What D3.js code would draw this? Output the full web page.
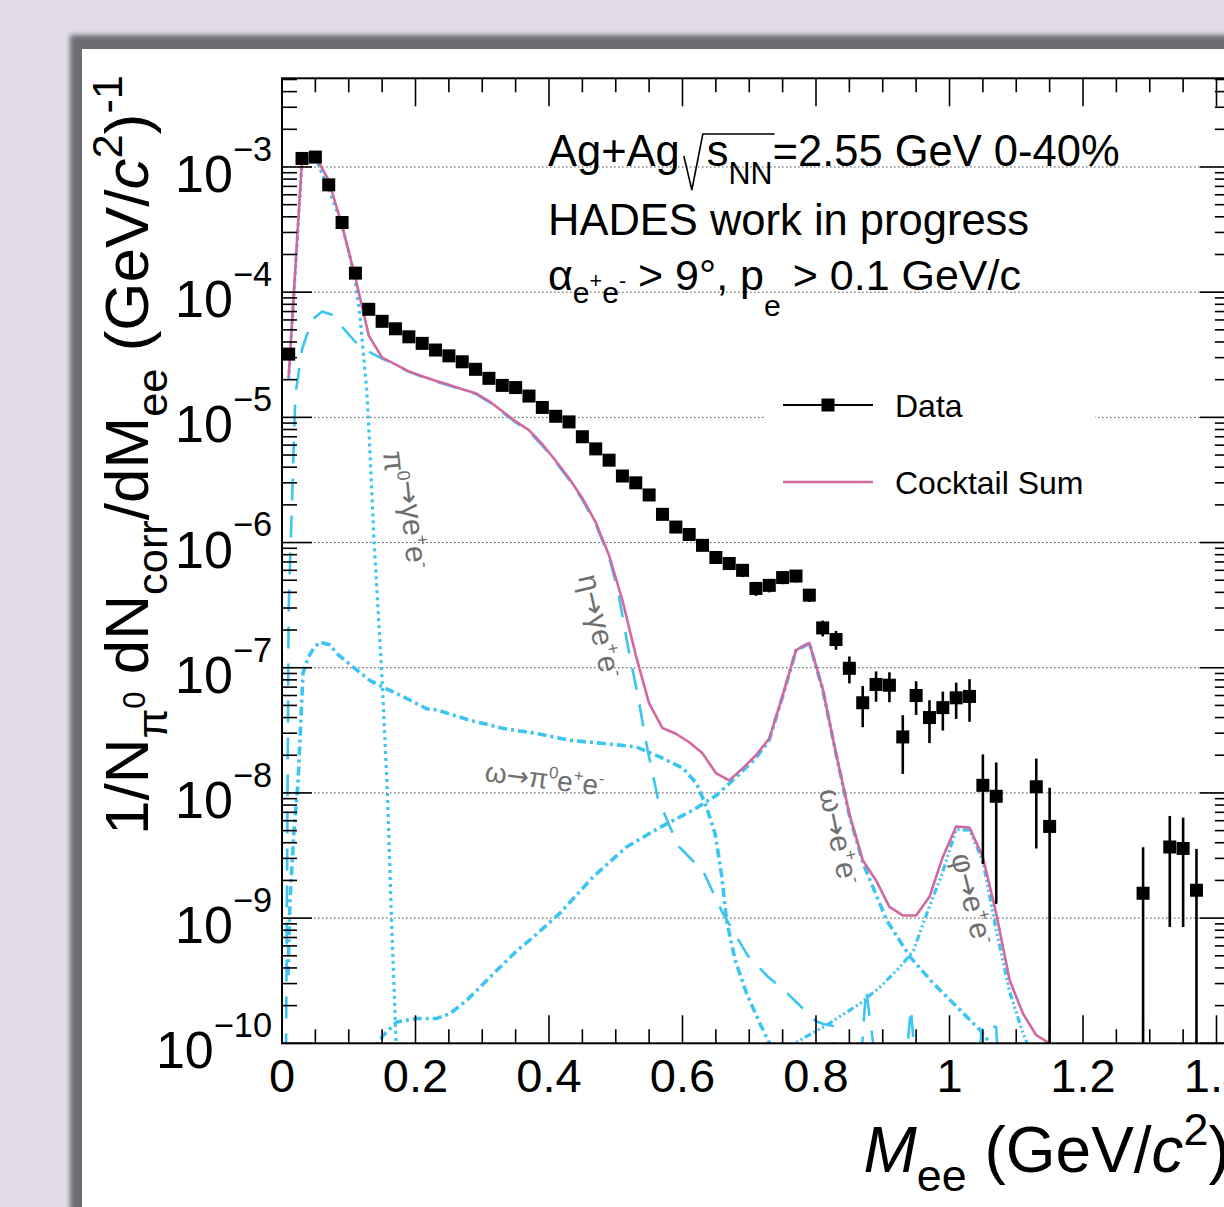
<!DOCTYPE html>
<html>
<head>
<meta charset="utf-8">
<script src="https://cdn.jsdelivr.net/npm/d3@7/dist/d3.min.js"></script>
<style>
  html, body { margin: 0; padding: 0; background: #e1dce8; }
  svg { display: block; }
  text { font-family: "Liberation Sans", Arial, Helvetica, sans-serif; }
</style>
</head>
<body>
<svg id="chart" width="1224" height="1207"></svg>
<script>
// ---------- measured dielectron yield (bin centres in GeV/c^2) ----------
const dataMass = [0.01,0.03,0.05,0.07,0.09,0.11,0.13,0.15,0.17,0.19,0.21,0.23,0.25,0.27,0.29,0.31,0.33,0.35,0.37,0.39,
  0.41,0.43,0.45,0.47,0.49,0.51,0.53,0.55,0.57,0.59,0.61,0.63,0.65,0.67,0.69,0.71,0.73,0.75,0.77,0.79,
  0.81,0.83,0.85,0.87,0.89,0.91,0.93,0.95,0.97,0.99,1.01,1.03,1.05,1.07,1.13,1.15,1.29,1.33,1.35,1.37];
const dataYield = [3.2e-5,1.17e-3,1.2e-3,7.2e-4,3.6e-4,1.42e-4,7.3e-5,5.85e-5,5.1e-5,4.4e-5,3.9e-5,3.45e-5,3.1e-5,2.78e-5,2.42e-5,2.05e-5,1.8e-5,1.73e-5,1.48e-5,1.2e-5,
  1.02e-5,9.2e-6,7.0e-6,5.6e-6,4.55e-6,3.4e-6,3.0e-6,2.4e-6,1.68e-6,1.33e-6,1.16e-6,9.5e-7,7.6e-7,6.8e-7,6.0e-7,4.3e-7,4.55e-7,5.25e-7,5.4e-7,3.8e-7,
  2.08e-7,1.68e-7,9.9e-8,5.25e-8,7.35e-8,7.25e-8,2.8e-8,6.0e-8,4.0e-8,4.8e-8,5.75e-8,5.9e-8,1.15e-8,9.4e-9,1.12e-8,5.4e-9,1.58e-9,3.7e-9,3.6e-9,1.67e-9];
const dataErr = [8e-7,1.2e-5,1.2e-5,8e-6,4.5e-6,2.2e-6,1.3e-6,1.1e-6,1.0e-6,9e-7,8e-7,7.5e-7,7e-7,6.5e-7,6e-7,5.5e-7,5e-7,5e-7,4.5e-7,4e-7,
  3.6e-7,3.3e-7,2.9e-7,2.6e-7,2.3e-7,2e-7,1.8e-7,1.6e-7,1.3e-7,1.1e-7,1.0e-7,9e-8,8e-8,7.5e-8,7e-8,5.5e-8,5.5e-8,6e-8,6e-8,4.5e-8,
  3e-8,2.9e-8,2.4e-8,1.9e-8,2e-8,1.95e-8,1.38e-8,1.8e-8,1.5e-8,1.65e-8,1.85e-8,2.2e-8,8.8e-9,8.1e-9,7.6e-9,5.6e-9,2.1e-9,2.85e-9,2.75e-9,1.9e-9];

// ---------- cocktail ----------
const sumMass = [0.01,0.03,0.05,0.07,0.09,0.11,0.13,0.15,0.17,0.19,0.21,0.23,0.25,0.27,0.29,0.31,0.33,0.35,0.37,0.39,
  0.41,0.43,0.45,0.47,0.49,0.51,0.53,0.55,0.57,0.59,0.61,0.63,0.65,0.67,0.69,0.71,0.73,0.75,0.77,0.79,
  0.81,0.83,0.85,0.87,0.89,0.91,0.93,0.95,0.97,0.99,1.01,1.03,1.05,1.07,1.09,1.11,1.13,1.15,1.17];
const sumYield = [2.1e-5,1.14e-3,1.22e-3,7.8e-4,3.4e-4,1.3e-4,4.5e-5,3.0e-5,2.65e-5,2.33e-5,2.13e-5,1.96e-5,1.82e-5,1.68e-5,1.56e-5,1.35e-5,1.12e-5,9.3e-6,7.9e-6,6.1e-6,
  4.5e-6,3.26e-6,2.26e-6,1.45e-6,7.9e-7,3.46e-7,1.26e-7,5.2e-8,3.3e-8,2.97e-8,2.54e-8,2.07e-8,1.44e-8,1.26e-8,1.57e-8,2.0e-8,2.72e-8,6.0e-8,1.38e-7,1.58e-7,
  6.8e-8,2.07e-8,6.8e-9,2.9e-9,2.0e-9,1.23e-9,1.05e-9,1.05e-9,1.48e-9,3.08e-9,5.4e-9,5.3e-9,3.08e-9,1.09e-9,3.2e-10,1.73e-10,1.16e-10,1.0e-10,8e-11];

const pi0Mass = [0.01,0.03,0.05,0.069,0.089,0.102,0.112,0.117,0.121,0.127,0.130,0.138,0.149,0.158,0.164,0.171,0.176];
const pi0Yield = [2.0e-5,1.1e-3,1.18e-3,6.9e-4,3.55e-4,1.91e-4,1.04e-4,6.3e-5,3.65e-5,1.64e-5,8.4e-6,1.0e-6,1.0e-7,1.0e-8,1.0e-9,1.0e-10,5e-11];

const etaMass = [0.006,0.01,0.02,0.03,0.045,0.06,0.075,0.09,0.11,0.13,0.15,0.17,0.19,0.21,0.23,0.25,0.27,0.29,0.31,0.33,
  0.35,0.37,0.39,0.41,0.43,0.45,0.47,0.49,0.503,0.518,0.533,0.547,0.563,0.593,0.631,0.66,0.698,0.728,0.754,0.80,
  0.812,0.825,0.828,0.868,0.875,0.888,0.936,0.942,0.948,1.046,1.048,1.07,1.072];
const etaYield = [8e-11,3e-7,1.5e-5,3.5e-5,6.0e-5,7.0e-5,6.6e-5,5.3e-5,4.0e-5,3.35e-5,2.95e-5,2.63e-5,2.31e-5,2.11e-5,1.94e-5,1.8e-5,1.66e-5,1.54e-5,1.33e-5,1.1e-5,
  9.1e-6,7.7e-6,5.95e-6,4.4e-6,3.18e-6,2.2e-6,1.4e-6,7.6e-7,4.2e-7,1.5e-7,6.0e-8,2.3e-8,9.1e-9,3.8e-9,2.37e-9,1.1e-9,5e-10,3.4e-10,2.6e-10,1.5e-10,
  1.42e-10,1.38e-10,8e-11,8e-11,2.7e-10,8e-11,8e-11,1.9e-10,8e-11,8e-11,1.4e-10,1.35e-10,8e-11];

const omegaDalMass = [0.009,0.012,0.018,0.024,0.0315,0.039,0.048,0.057,0.072,0.082,0.112,0.132,0.151,0.182,0.217,0.232,0.282,0.332,0.382,0.432,
  0.482,0.531,0.566,0.601,0.621,0.636,0.649,0.659,0.666,0.679,0.696,0.716,0.728,0.74];
const omegaDalYield = [3.5e-10,1.4e-9,5e-9,1.2e-8,9.1e-8,1.2e-7,1.45e-7,1.6e-7,1.52e-7,1.3e-7,9.6e-8,7.9e-8,7.0e-8,5.85e-8,4.7e-8,4.6e-8,3.8e-8,3.27e-8,2.98e-8,2.63e-8,
  2.48e-8,2.33e-8,1.94e-8,1.57e-8,1.19e-8,7.7e-9,4.7e-9,2.13e-9,9.6e-10,4.6e-10,2.5e-10,1.44e-10,1.06e-10,8e-11];

const omegaMass = [0.13,0.152,0.172,0.202,0.232,0.252,0.277,0.302,0.327,0.352,0.377,0.416,0.466,0.516,0.566,0.616,0.651,0.671,0.69,0.71,
  0.73,0.75,0.77,0.79,0.81,0.83,0.85,0.871,0.906,0.941,0.976,1.016,1.046,1.061,1.08];
const omegaYield = [8e-11,1.16e-10,1.48e-10,1.58e-10,1.58e-10,1.73e-10,2.21e-10,3.0e-10,4.07e-10,5.5e-10,7.1e-10,1.09e-9,2.13e-9,3.7e-9,5.3e-9,7.3e-9,9.6e-9,1.2e-8,1.5e-8,1.9e-8,
  2.65e-8,5.9e-8,1.37e-7,1.57e-7,6.7e-8,2.05e-8,6.6e-9,2.7e-9,9.6e-10,4.9e-10,3.0e-10,1.84e-10,1.27e-10,1.0e-10,8e-11];

const phiMass = [0.76,0.768,0.816,0.866,0.896,0.926,0.946,0.966,0.989,1.01,1.03,1.05,1.07,1.09,1.11,1.12];
const phiYield = [8e-11,1.0e-10,1.4e-10,2.08e-10,2.82e-10,4.07e-10,5.5e-10,1.09e-9,2.27e-9,5.1e-9,5.05e-9,2.85e-9,8e-10,2.6e-10,1.2e-10,9e-11];

// ---------- axes ----------
const xMajorTicks = [0, 0.2, 0.4, 0.6, 0.8, 1.0, 1.2, 1.4];
const xTickLabels = ["0", "0.2", "0.4", "0.6", "0.8", "1", "1.2", "1.4"];
const yDecades = [-10, -9, -8, -7, -6, -5, -4, -3];

// ---------- geometry ----------
const svg = d3.select("#chart");
const frame = { left: 282, top: 78.3, bottom: 1043.3 };
const x = d3.scaleLinear().domain([0, 1.42]).range([frame.left, frame.left + 1.42 * 667.5]);
const y = d3.scaleLog().domain([1e-10, 5.11e-3]).range([frame.bottom, frame.top]);
frame.right = x.range()[1];

const cyan = "#3cc5f2";
const pink = "#d2689f";
const labelGrey = "#6f6f6f";

// ---------- canvas panel with its soft edge ----------
const defs = svg.append("defs");
defs.append("filter").attr("id", "soft").attr("x", "-5%").attr("y", "-5%").attr("width", "110%").attr("height", "110%")
  .append("feGaussianBlur").attr("stdDeviation", 2.6);
svg.append("rect").attr("x", 70).attr("y", 35).attr("width", 1300).attr("height", 1300)
  .attr("fill", "#6d6c71").attr("filter", "url(#soft)");
svg.append("rect").attr("x", 82).attr("y", 49).attr("width", 1300).attr("height", 1300).attr("fill", "#ffffff");

defs.append("clipPath").attr("id", "plotclip").append("rect")
  .attr("x", frame.left).attr("y", frame.top)
  .attr("width", frame.right - frame.left).attr("height", frame.bottom - frame.top);

// ---------- horizontal grid ----------
const grid = svg.append("g");
yDecades.slice(1).forEach(k => {
  grid.append("line")
    .attr("x1", frame.left).attr("x2", frame.right)
    .attr("y1", y(Math.pow(10, k))).attr("y2", y(Math.pow(10, k)))
    .attr("stroke", "#555").attr("stroke-width", 1).attr("stroke-dasharray", "1.6,2.4");
});

// ---------- rich text helper (sub/superscripts via tspans) ----------
function richText(g, parts, size, anchor) {
  const t = g.append("text").attr("font-size", size).attr("text-anchor", anchor || "start").attr("fill", "#000");
  let cur = 0;
  parts.forEach(p => {
    const up = p.up || 0;
    const ts = t.append("tspan").text(p.t)
      .attr("font-size", size * (p.s || 1))
      .attr("dy", ((cur - up) * size).toFixed(2));
    if (p.dx) ts.attr("dx", p.dx);
    if (p.it) ts.attr("font-style", "italic");
    if (p.font) ts.attr("font-family", p.font);
    cur = up;
  });
  return t;
}

// ---------- cocktail curves ----------
const curves = svg.append("g").attr("clip-path", "url(#plotclip)");
const line = d3.line().x(d => x(d[0])).y(d => y(Math.max(d[1], 1e-11)));
function drawCurve(mass, vals, stroke, width, dash) {
  curves.append("path")
    .datum(mass.map((m, i) => [m, vals[i]]))
    .attr("d", line).attr("fill", "none")
    .attr("stroke", stroke).attr("stroke-width", width)
    .attr("stroke-dasharray", dash || null)
    .attr("stroke-linejoin", "round");
}
drawCurve(omegaDalMass, omegaDalYield, cyan, 3.6, "9,4,3,4");
drawCurve(omegaMass, omegaYield, cyan, 3.6, "9,4,3,4");
drawCurve(phiMass, phiYield, cyan, 3.2, "7,3,2,3,2,3,2,3");
drawCurve(etaMass, etaYield, cyan, 2.6, "22,15");
drawCurve(pi0Mass, pi0Yield, cyan, 3.2, "3,4");
drawCurve(sumMass, sumYield, pink, 2.6, null);

// ---------- data points ----------
const pts = svg.append("g").attr("clip-path", "url(#plotclip)");
dataMass.forEach((m, i) => {
  const v = dataYield[i], e = dataErr[i];
  const lo = v - e > 0 ? y(v - e) : frame.bottom;
  pts.append("line").attr("x1", x(m)).attr("x2", x(m))
    .attr("y1", y(v + e)).attr("y2", lo)
    .attr("stroke", "#000").attr("stroke-width", 2.6);
  pts.append("rect").attr("x", x(m) - 6.5).attr("y", y(v) - 6.5)
    .attr("width", 13).attr("height", 13).attr("fill", "#000");
});

// ---------- frame & ticks ----------
const axes = svg.append("g");
axes.append("rect").attr("x", frame.left).attr("y", frame.top)
  .attr("width", frame.right - frame.left).attr("height", frame.bottom - frame.top)
  .attr("fill", "none").attr("stroke", "#000").attr("stroke-width", 2);

const xMinor = d3.range(0, 1.4201, 0.05);
xMinor.forEach(v => {
  const major = xMajorTicks.some(t => Math.abs(t - v) < 1e-6);
  const len = major ? 28 : 14;
  axes.append("line").attr("x1", x(v)).attr("x2", x(v))
    .attr("y1", frame.bottom).attr("y2", frame.bottom - len).attr("stroke", "#000").attr("stroke-width", 1.6);
  axes.append("line").attr("x1", x(v)).attr("x2", x(v))
    .attr("y1", frame.top).attr("y2", frame.top + len).attr("stroke", "#000").attr("stroke-width", 1.6);
});
yDecades.forEach(k => {
  for (let j = 1; j <= 9; j++) {
    const v = j * Math.pow(10, k);
    if (v > y.domain()[1]) break;
    const len = j === 1 ? 30 : 15;
    axes.append("line").attr("x1", frame.left).attr("x2", frame.left + len)
      .attr("y1", y(v)).attr("y2", y(v)).attr("stroke", "#000").attr("stroke-width", 1.6);
    axes.append("line").attr("x1", frame.right).attr("x2", frame.right - len)
      .attr("y1", y(v)).attr("y2", y(v)).attr("stroke", "#000").attr("stroke-width", 1.6);
  }
});

// tick labels
xMajorTicks.forEach((v, i) => {
  axes.append("text").attr("x", x(v)).attr("y", 1092).attr("text-anchor", "middle")
    .attr("font-size", 47).text(xTickLabels[i]);
});
yDecades.forEach(k => {
  const g = axes.append("g").attr("transform", `translate(272,${y(Math.pow(10, k)) + 25})`);
  richText(g, [{ t: "10" }, { t: "\u2212" + Math.abs(k), s: 0.66, up: 0.6 }], 52, "end");
});

// axis titles
const yTitle = svg.append("g").attr("transform", "translate(148,75) rotate(-90)");
richText(yTitle, [
  { t: "1/N" },
  { t: "\u03c0", s: 0.7, up: -0.3 },
  { t: "0", s: 0.5, up: 0.05 },
  { t: " dN" },
  { t: "corr", s: 0.7, up: -0.3 },
  { t: "/dM" },
  { t: "ee", s: 0.7, up: -0.3 },
  { t: " (GeV/" },
  { t: "c", it: true },
  { t: "2", s: 0.7, up: 0.42 },
  { t: ")" },
  { t: "-1", s: 0.7, up: 0.42 }
], 62, "end");

const xTitle = svg.append("g").attr("transform", `translate(${frame.right},1172)`);
richText(xTitle, [
  { t: "M", it: true },
  { t: "ee", s: 0.7, up: -0.3 },
  { t: " (GeV/" },
  { t: "c", it: true },
  { t: "2", s: 0.7, up: 0.42 },
  { t: ")" }
], 64, "end");

// ---------- annotation block ----------
const notes = svg.append("g");
const l1 = richText(notes.append("g").attr("transform", "translate(548,166)"), [
  { t: "Ag+Ag" },
  { t: "s", dx: 27 },
  { t: "NN", s: 0.7, up: -0.42 },
  { t: "=2.55 GeV 0-40%", up: 0 }
], 43.5, "start");
{
  const tsS = l1.selectAll("tspan").nodes()[1];
  const tsNN = l1.selectAll("tspan").nodes()[2];
  const sx = 548 + tsS.getStartPositionOfChar(0).x;
  const ex = 548 + tsNN.getEndPositionOfChar(1).x;
  notes.append("path")
    .attr("d", `M${sx - 23},${166 - 10} L${sx - 15},${166 + 24} L${sx - 4},${166 - 32} L${ex + 2},${166 - 32}`)
    .attr("fill", "none").attr("stroke", "#000").attr("stroke-width", 1.6);
}
richText(notes.append("g").attr("transform", "translate(548,235)"), [{ t: "HADES work in progress" }], 43.5, "start");
richText(notes.append("g").attr("transform", "translate(548,290)"), [
  { t: "\u03b1" },
  { t: "e", s: 0.7, up: -0.3 },
  { t: "+", s: 0.5, up: 0.05 },
  { t: "e", s: 0.7, up: -0.3 },
  { t: "-", s: 0.5, up: 0.05 },
  { t: " > 9\u00b0, p", up: 0 },
  { t: "e", s: 0.7, up: -0.6 },
  { t: " > 0.1 GeV/c", up: 0 }
], 43, "start");

// ---------- legend ----------
const legend = svg.append("g");
legend.append("rect").attr("x", 765).attr("y", 370).attr("width", 330).attr("height", 150).attr("fill", "#fff");
legend.append("line").attr("x1", 783).attr("x2", 873).attr("y1", 405).attr("y2", 405).attr("stroke", "#000").attr("stroke-width", 2);
legend.append("rect").attr("x", 828 - 6.5).attr("y", 405 - 6.5).attr("width", 13).attr("height", 13).attr("fill", "#000");
legend.append("text").attr("x", 895).attr("y", 417).attr("font-size", 32).text("Data");
legend.append("line").attr("x1", 783).attr("x2", 873).attr("y1", 482).attr("y2", 482).attr("stroke", pink).attr("stroke-width", 2.6);
legend.append("text").attr("x", 895).attr("y", 494).attr("font-size", 32).text("Cocktail Sum");

// ---------- channel labels ----------
function channelLabel(px, py, angle, size, parts) {
  const g = svg.append("g").attr("transform", `translate(${px},${py}) rotate(${angle})`);
  const t = richText(g, parts, size, "start");
  t.attr("fill", labelGrey);
}
const arr = { t: "\u2192", font: "DejaVu Sans", s: 0.95 };
const sup = c => ({ t: c, s: 0.6, up: 0.4 });
const base = c => ({ t: c, up: 0 });
channelLabel(383, 452, 84, 30, [base("\u03c0"), sup("0"), base(""), arr, base("\u03b3e"), sup("+"), base("e"), sup("-")]);
channelLabel(578, 577, 77, 30, [base("\u03b7"), arr, base("\u03b3e"), sup("+"), base("e"), sup("-")]);
channelLabel(484, 781, 7, 28, [base("\u03c9"), arr, base("\u03c0"), sup("0"), base("e"), sup("+"), base("e"), sup("-")]);
channelLabel(819, 791, 78, 30, [base("\u03c9"), arr, base("e"), sup("+"), base("e"), sup("-")]);
channelLabel(951, 856, 76, 30, [base("\u03c6"), arr, base("e"), sup("+"), base("e"), sup("-")]);
</script>
</body>
</html>
